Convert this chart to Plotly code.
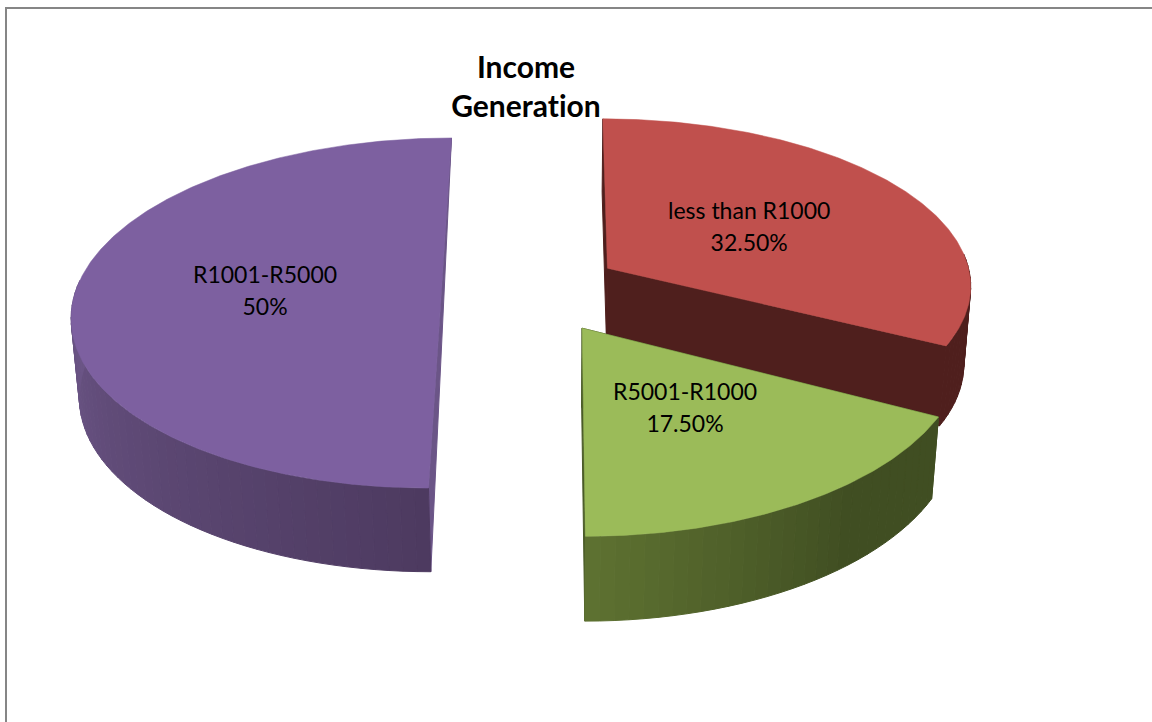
import math
import plotly.graph_objects as go

# --- data ---------------------------------------------------------------
categories = ["less than R1000", "R5001-R1000", "R1001-R5000"]
shares = [32.5, 17.5, 50.0]
value_labels = ["32.50%", "17.50%", "50%"]
title_lines = ["Income", "Generation"]

# --- style / camera ------------------------------------------------------
TOP = ["#c0504d", "#9bbb59", "#7d60a0"]
WALL_LIGHT = ["#4f1f1d", "#5e7231", "#6b5586"]
WALL_DARK = ["#4f1f1d", "#404e22", "#4d3a60"]
RADIAL = ["#4f1f1d", "#4a5b28", "#6b5587"]
OFFSET = [(0.146, -0.16), (0.073, 0.185), (-0.312, 0.0)]
RADII = [(1.005, 0.975), (1.02, 1.035), (1.005, 1.0)]
LABEL_XY = [(749, 226), (685, 407), (265, 290)]
CX, CY, A, B, K, H, M = 555, 295.5, 365, 173.3, 0.10, 80, 0.017
FADE = [(0, 1), (140, 180), (180, 270)]   # angle span over which wall shades


def proj(X, Y, z=0.0):
    w = 1 - K * Y + M * z
    return CX + A * X / w, CY + (B * Y + H * z) / w


def mix(c1, c2, t):
    t = max(0.0, min(1.0, t))
    v = [int(c1[i:i + 2], 16) * (1 - t) + int(c2[i:i + 2], 16) * t for i in (1, 3, 5)]
    return "#%02x%02x%02x" % tuple(round(x) for x in v)


def poly(pts, color, width=1):
    return go.Scatter(
        x=[p[0] for p in pts] + [pts[0][0]],
        y=[p[1] for p in pts] + [pts[0][1]],
        mode="lines", fill="toself", fillcolor=color,
        line=dict(color=color, width=width), hoverinfo="skip", showlegend=False,
    )


fig = go.Figure()
total = sum(shares)
start = 0.0
spans = []
for s in shares:
    spans.append((start, start + 360 * s / total))
    start += 360 * s / total

for i, (t0, t1) in enumerate(spans):
    dx, dy = OFFSET[i]
    rx, ry = RADII[i]

    def rim(t, z=0.0):
        r = math.radians(t)
        return proj(dx + rx * math.sin(r), dy - ry * math.cos(r), z)

    apex = (dx, dy)
    # flat cut walls
    if t1 - t0 >= 179.9:
        # half pie: the two cuts form one plane, seen as a thin sliver
        fig.add_trace(poly([rim(t1), rim(t0, 1), rim(t0)], RADIAL[i]))
    else:
        for t in (t0, t1):
            fig.add_trace(poly([proj(*apex), rim(t), rim(t, 1), proj(*apex, 1)], RADIAL[i]))
    # outer wall in shaded strips (only the part facing the viewer)
    v0, v1 = max(t0, 85.0), min(t1, 275.0)
    if v1 > v0:
        n = max(8, int((v1 - v0) / 2))
        f0, f1 = FADE[i]
        for j in range(n):
            a0 = v0 + (v1 - v0) * j / n
            a1 = v0 + (v1 - v0) * (j + 1) / n
            col = mix(WALL_DARK[i], WALL_LIGHT[i], ((a0 + a1) / 2 - f0) / (f1 - f0))
            fig.add_trace(poly([rim(a0), rim(a1), rim(a1, 1), rim(a0, 1)], col))
    # top face
    n = int(t1 - t0) * 2
    top = [proj(*apex)] + [rim(t0 + (t1 - t0) * j / n) for j in range(n + 1)]
    fig.add_trace(poly(top, TOP[i], 0.5))

annotations = [
    dict(x=x, y=y, xref="x", yref="y", showarrow=False, align="center",
         text=f"<span style='font-size:23px'>{c}<br>{v}</span>",
         font=dict(family="Lato", size=24.6, color="#000000"))
    for (x, y), c, v in zip(LABEL_XY, categories, value_labels)
]

fig.update_layout(
    width=1152, height=722, autosize=False,
    margin=dict(l=0, r=0, t=0, b=0),
    paper_bgcolor="#ffffff", plot_bgcolor="#ffffff",
    showlegend=False, annotations=annotations,
    title=dict(
        text="<b>" + "<br>".join(title_lines) + "</b>",
        font=dict(family="Lato", size=30, color="#000000"),
        x=526 / 1152, xanchor="center", xref="paper",
        y=1 - 78 / 722, yanchor="top", yref="container",
    ),
    xaxis=dict(range=[0, 1152], visible=False, fixedrange=True),
    yaxis=dict(range=[722, 0], visible=False, fixedrange=True),
    shapes=[dict(type="rect", xref="x", yref="y", x0=6, y0=8, x1=1200, y1=800,
                 line=dict(color="#868686", width=2), layer="above")],
)
fig.write_html("out.html", config={"displayModeBar": False},
               post_script="document.body.style.margin='0';document.body.style.overflow='hidden';"
                           "var s=document.createElement('style');"
                           "s.textContent='text,tspan{font-variant-ligatures:none !important;"
                           "font-feature-settings:\"liga\" 0,\"clig\" 0 !important}';"
                           "document.head.appendChild(s);")
